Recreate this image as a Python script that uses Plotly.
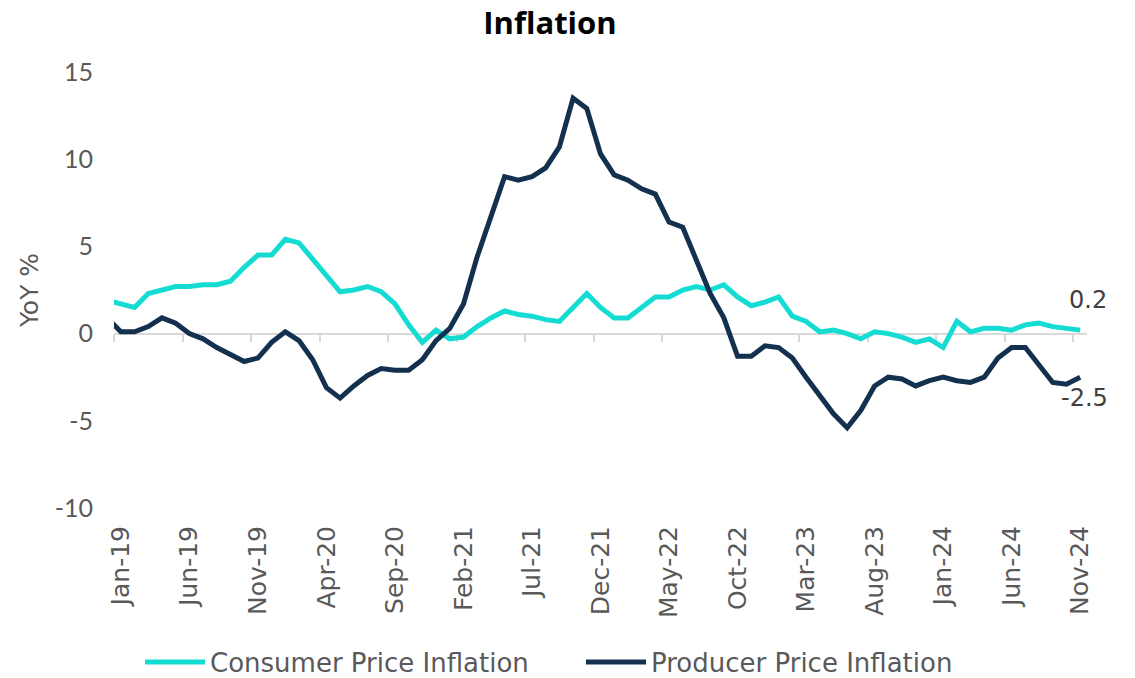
import plotly.graph_objects as go

months = ["Dec-18",
          "Jan-19", "Feb-19", "Mar-19", "Apr-19", "May-19", "Jun-19", "Jul-19", "Aug-19", "Sep-19", "Oct-19", "Nov-19", "Dec-19",
          "Jan-20", "Feb-20", "Mar-20", "Apr-20", "May-20", "Jun-20", "Jul-20", "Aug-20", "Sep-20", "Oct-20", "Nov-20", "Dec-20",
          "Jan-21", "Feb-21", "Mar-21", "Apr-21", "May-21", "Jun-21", "Jul-21", "Aug-21", "Sep-21", "Oct-21", "Nov-21", "Dec-21",
          "Jan-22", "Feb-22", "Mar-22", "Apr-22", "May-22", "Jun-22", "Jul-22", "Aug-22", "Sep-22", "Oct-22", "Nov-22", "Dec-22",
          "Jan-23", "Feb-23", "Mar-23", "Apr-23", "May-23", "Jun-23", "Jul-23", "Aug-23", "Sep-23", "Oct-23", "Nov-23", "Dec-23",
          "Jan-24", "Feb-24", "Mar-24", "Apr-24", "May-24", "Jun-24", "Jul-24", "Aug-24", "Sep-24", "Oct-24", "Nov-24"]

cpi = [1.9,
       1.7, 1.5, 2.3, 2.5, 2.7, 2.7, 2.8, 2.8, 3.0, 3.8, 4.5, 4.5,
       5.4, 5.2, 4.3, 3.3, 2.4, 2.5, 2.7, 2.4, 1.7, 0.5, -0.5, 0.2,
       -0.3, -0.2, 0.4, 0.9, 1.3, 1.1, 1.0, 0.8, 0.7, 1.5, 2.3, 1.5,
       0.9, 0.9, 1.5, 2.1, 2.1, 2.5, 2.7, 2.5, 2.8, 2.1, 1.6, 1.8,
       2.1, 1.0, 0.7, 0.1, 0.2, 0.0, -0.3, 0.1, 0.0, -0.2, -0.5, -0.3,
       -0.8, 0.7, 0.1, 0.3, 0.3, 0.2, 0.5, 0.6, 0.4, 0.3, 0.2]

ppi = [0.9,
       0.1, 0.1, 0.4, 0.9, 0.6, 0.0, -0.3, -0.8, -1.2, -1.6, -1.4, -0.5,
       0.1, -0.4, -1.5, -3.1, -3.7, -3.0, -2.4, -2.0, -2.1, -2.1, -1.5, -0.4,
       0.3, 1.7, 4.4, 6.8, 9.0, 8.8, 9.0, 9.5, 10.7, 13.5, 12.9, 10.3,
       9.1, 8.8, 8.3, 8.0, 6.4, 6.1, 4.2, 2.3, 0.9, -1.3, -1.3, -0.7,
       -0.8, -1.4, -2.5, -3.6, -4.6, -5.4, -4.4, -3.0, -2.5, -2.6, -3.0, -2.7,
       -2.5, -2.7, -2.8, -2.5, -1.4, -0.8, -0.8, -1.8, -2.8, -2.9, -2.5]

tick_labels = ["Jan-19", "Jun-19", "Nov-19", "Apr-20", "Sep-20", "Feb-21", "Jul-21",
               "Dec-21", "May-22", "Oct-22", "Mar-23", "Aug-23", "Jan-24", "Jun-24", "Nov-24"]

y_ticks = [-10, -5, 0, 5, 10, 15]
y_tick_text = ["-10", "-5", "0", "5", "10", "15"]

CPI_COLOR = "#14DCD2"
PPI_COLOR = "#13304F"
TEXT = "#595959"
FONT = "DejaVu Sans"

fig = go.Figure()
fig.add_trace(go.Scatter(x=months, y=cpi, mode="lines", name="Consumer Price Inflation",
                         line=dict(color=CPI_COLOR, width=5)))
fig.add_trace(go.Scatter(x=months, y=ppi, mode="lines", name="Producer Price Inflation",
                         line=dict(color=PPI_COLOR, width=5)))

ymin, ymax = y_ticks[0], y_ticks[-1]
n = len(months)
first = months.index(tick_labels[0])
boundaries = [first - 0.5 + 5 * i for i in range(len(tick_labels))]

fig.update_layout(
    width=1135, height=678,
    paper_bgcolor="white", plot_bgcolor="white",
    margin=dict(l=114, r=48, t=72, b=170, autoexpand=False),
    font=dict(family=FONT, color=TEXT, size=24),
    title=dict(text="<b>Inflation</b>", font=dict(family="Open Sans", size=31, color="#000000"),
               xref="container", x=550 / 1135, xanchor="center",
               yref="container", y=1 - 23 / 678, yanchor="middle"),
    showlegend=True,
    legend=dict(orientation="h", xref="container", x=140 / 1135, xanchor="left",
                yref="container", y=1 - 662 / 678, yanchor="middle",
                font=dict(size=26, color=TEXT, family=FONT), entrywidth=366, itemwidth=60),
    xaxis=dict(type="category", range=[first - 0.5, n - 0.5],
               tickmode="array", tickvals=tick_labels, ticktext=tick_labels,
               tickangle=-90, showgrid=False, zeroline=False, showline=False, ticks="",
               tickfont=dict(size=25, color=TEXT, family=FONT), ticklabelstandoff=12),
    xaxis2=dict(overlaying="x", anchor="free", position=(0 - ymin) / (ymax - ymin),
                type="linear", range=[first - 0.5, n - 0.5],
                tickmode="array", tickvals=boundaries, showticklabels=False,
                ticks="outside", ticklen=7, tickwidth=2, tickcolor="#D9D9D9",
                showline=True, linecolor="#D9D9D9", linewidth=2,
                showgrid=False, zeroline=False, layer="below traces"),
    yaxis=dict(range=[ymin, ymax], tickmode="array", tickvals=y_ticks, ticktext=y_tick_text,
               showgrid=False, zeroline=False, showline=False, ticks="",
               tickfont=dict(size=25, color=TEXT, family="Lato"), ticklabelstandoff=20,
               title=dict(text="YoY %", font=dict(size=25, color=TEXT, family=FONT), standoff=8)),
)

# invisible trace so the zero-crossing axis is drawn
fig.add_trace(go.Scatter(x=[first - 0.5], y=[0], xaxis="x2", mode="markers",
                         marker=dict(opacity=0), showlegend=False, hoverinfo="skip"))

fig.add_annotation(x=months[-1], y=cpi[-1], text=f"{cpi[-1]:.1f}", showarrow=False,
                   xshift=8, yshift=30, font=dict(size=24, color="#404040", family=FONT))
fig.add_annotation(x=months[-1], y=ppi[-1], text=f"{ppi[-1]:.1f}", showarrow=False,
                   xshift=4, yshift=-21, font=dict(size=24, color="#404040", family=FONT))

fig.write_html("out.html", config={"displayModeBar": False},
               post_script="document.body.style.margin='0';")
